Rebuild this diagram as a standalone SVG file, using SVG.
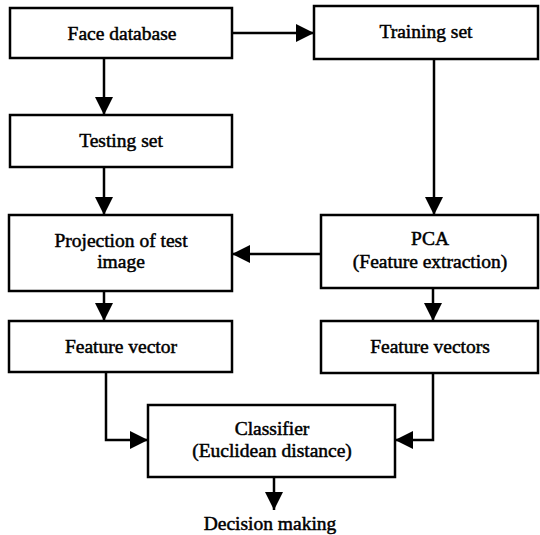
<svg xmlns="http://www.w3.org/2000/svg" width="540" height="535" viewBox="0 0 540 535">
<style>
.box{fill:#fff;stroke:#000;stroke-width:2.5}
.t{font-family:"Liberation Serif","Times New Roman",serif;font-size:19.5px;fill:#000;stroke:#000;stroke-width:0.5;text-anchor:middle}
.c{fill:none;stroke:#000;stroke-width:2.5}
</style>
<defs>
<marker id="ah" markerUnits="userSpaceOnUse" markerWidth="18" markerHeight="18" refX="18" refY="9" orient="auto">
<path d="M0,0 L18,9 L0,18 z" fill="#000"/>
</marker>
</defs>
<rect width="540" height="535" fill="#fff"/>
<g id="connectors">
<line class="c" x1="104" y1="58" x2="104" y2="115" marker-end="url(#ah)"/>
<line class="c" x1="232" y1="33" x2="314" y2="33" marker-end="url(#ah)"/>
<line class="c" x1="104" y1="167" x2="104" y2="215" marker-end="url(#ah)"/>
<line class="c" x1="434" y1="59" x2="434" y2="215" marker-end="url(#ah)"/>
<line class="c" x1="321" y1="254" x2="232" y2="254" marker-end="url(#ah)"/>
<line class="c" x1="104" y1="291" x2="104" y2="321" marker-end="url(#ah)"/>
<line class="c" x1="433" y1="288" x2="433" y2="321" marker-end="url(#ah)"/>
<polyline class="c" points="106,372 106,440 148,440" marker-end="url(#ah)"/>
<polyline class="c" points="433,373 433,440 395,440" marker-end="url(#ah)"/>
<line class="c" x1="274" y1="477" x2="274" y2="510" marker-end="url(#ah)"/>
</g>
<g id="face-database">
<rect class="box" x="10" y="8" width="222" height="50"/>
<text class="t" x="122" y="40">Face database</text>
</g>
<g id="training-set">
<rect class="box" x="314" y="6" width="224" height="53"/>
<text class="t" x="426" y="38">Training set</text>
</g>
<g id="testing-set">
<rect class="box" x="10" y="115" width="222" height="52"/>
<text class="t" x="121" y="147">Testing set</text>
</g>
<g id="projection">
<rect class="box" x="9" y="215" width="223" height="76"/>
<text class="t" x="121" y="247">Projection of test</text>
<text class="t" x="121" y="268">image</text>
</g>
<g id="pca">
<rect class="box" x="321" y="215" width="217" height="73"/>
<text class="t" x="430" y="245">PCA</text>
<text class="t" x="430" y="268">(Feature extraction)</text>
</g>
<g id="feature-vector">
<rect class="box" x="9" y="321" width="223" height="51"/>
<text class="t" x="121" y="353">Feature vector</text>
</g>
<g id="feature-vectors">
<rect class="box" x="321" y="321" width="217" height="52"/>
<text class="t" x="430" y="353">Feature vectors</text>
</g>
<g id="classifier">
<rect class="box" x="148" y="405" width="247" height="72"/>
<text class="t" x="272" y="435">Classifier</text>
<text class="t" x="272" y="457">(Euclidean distance)</text>
</g>
<g id="decision">
<text class="t" x="270" y="530">Decision making</text>
</g>
</svg>
